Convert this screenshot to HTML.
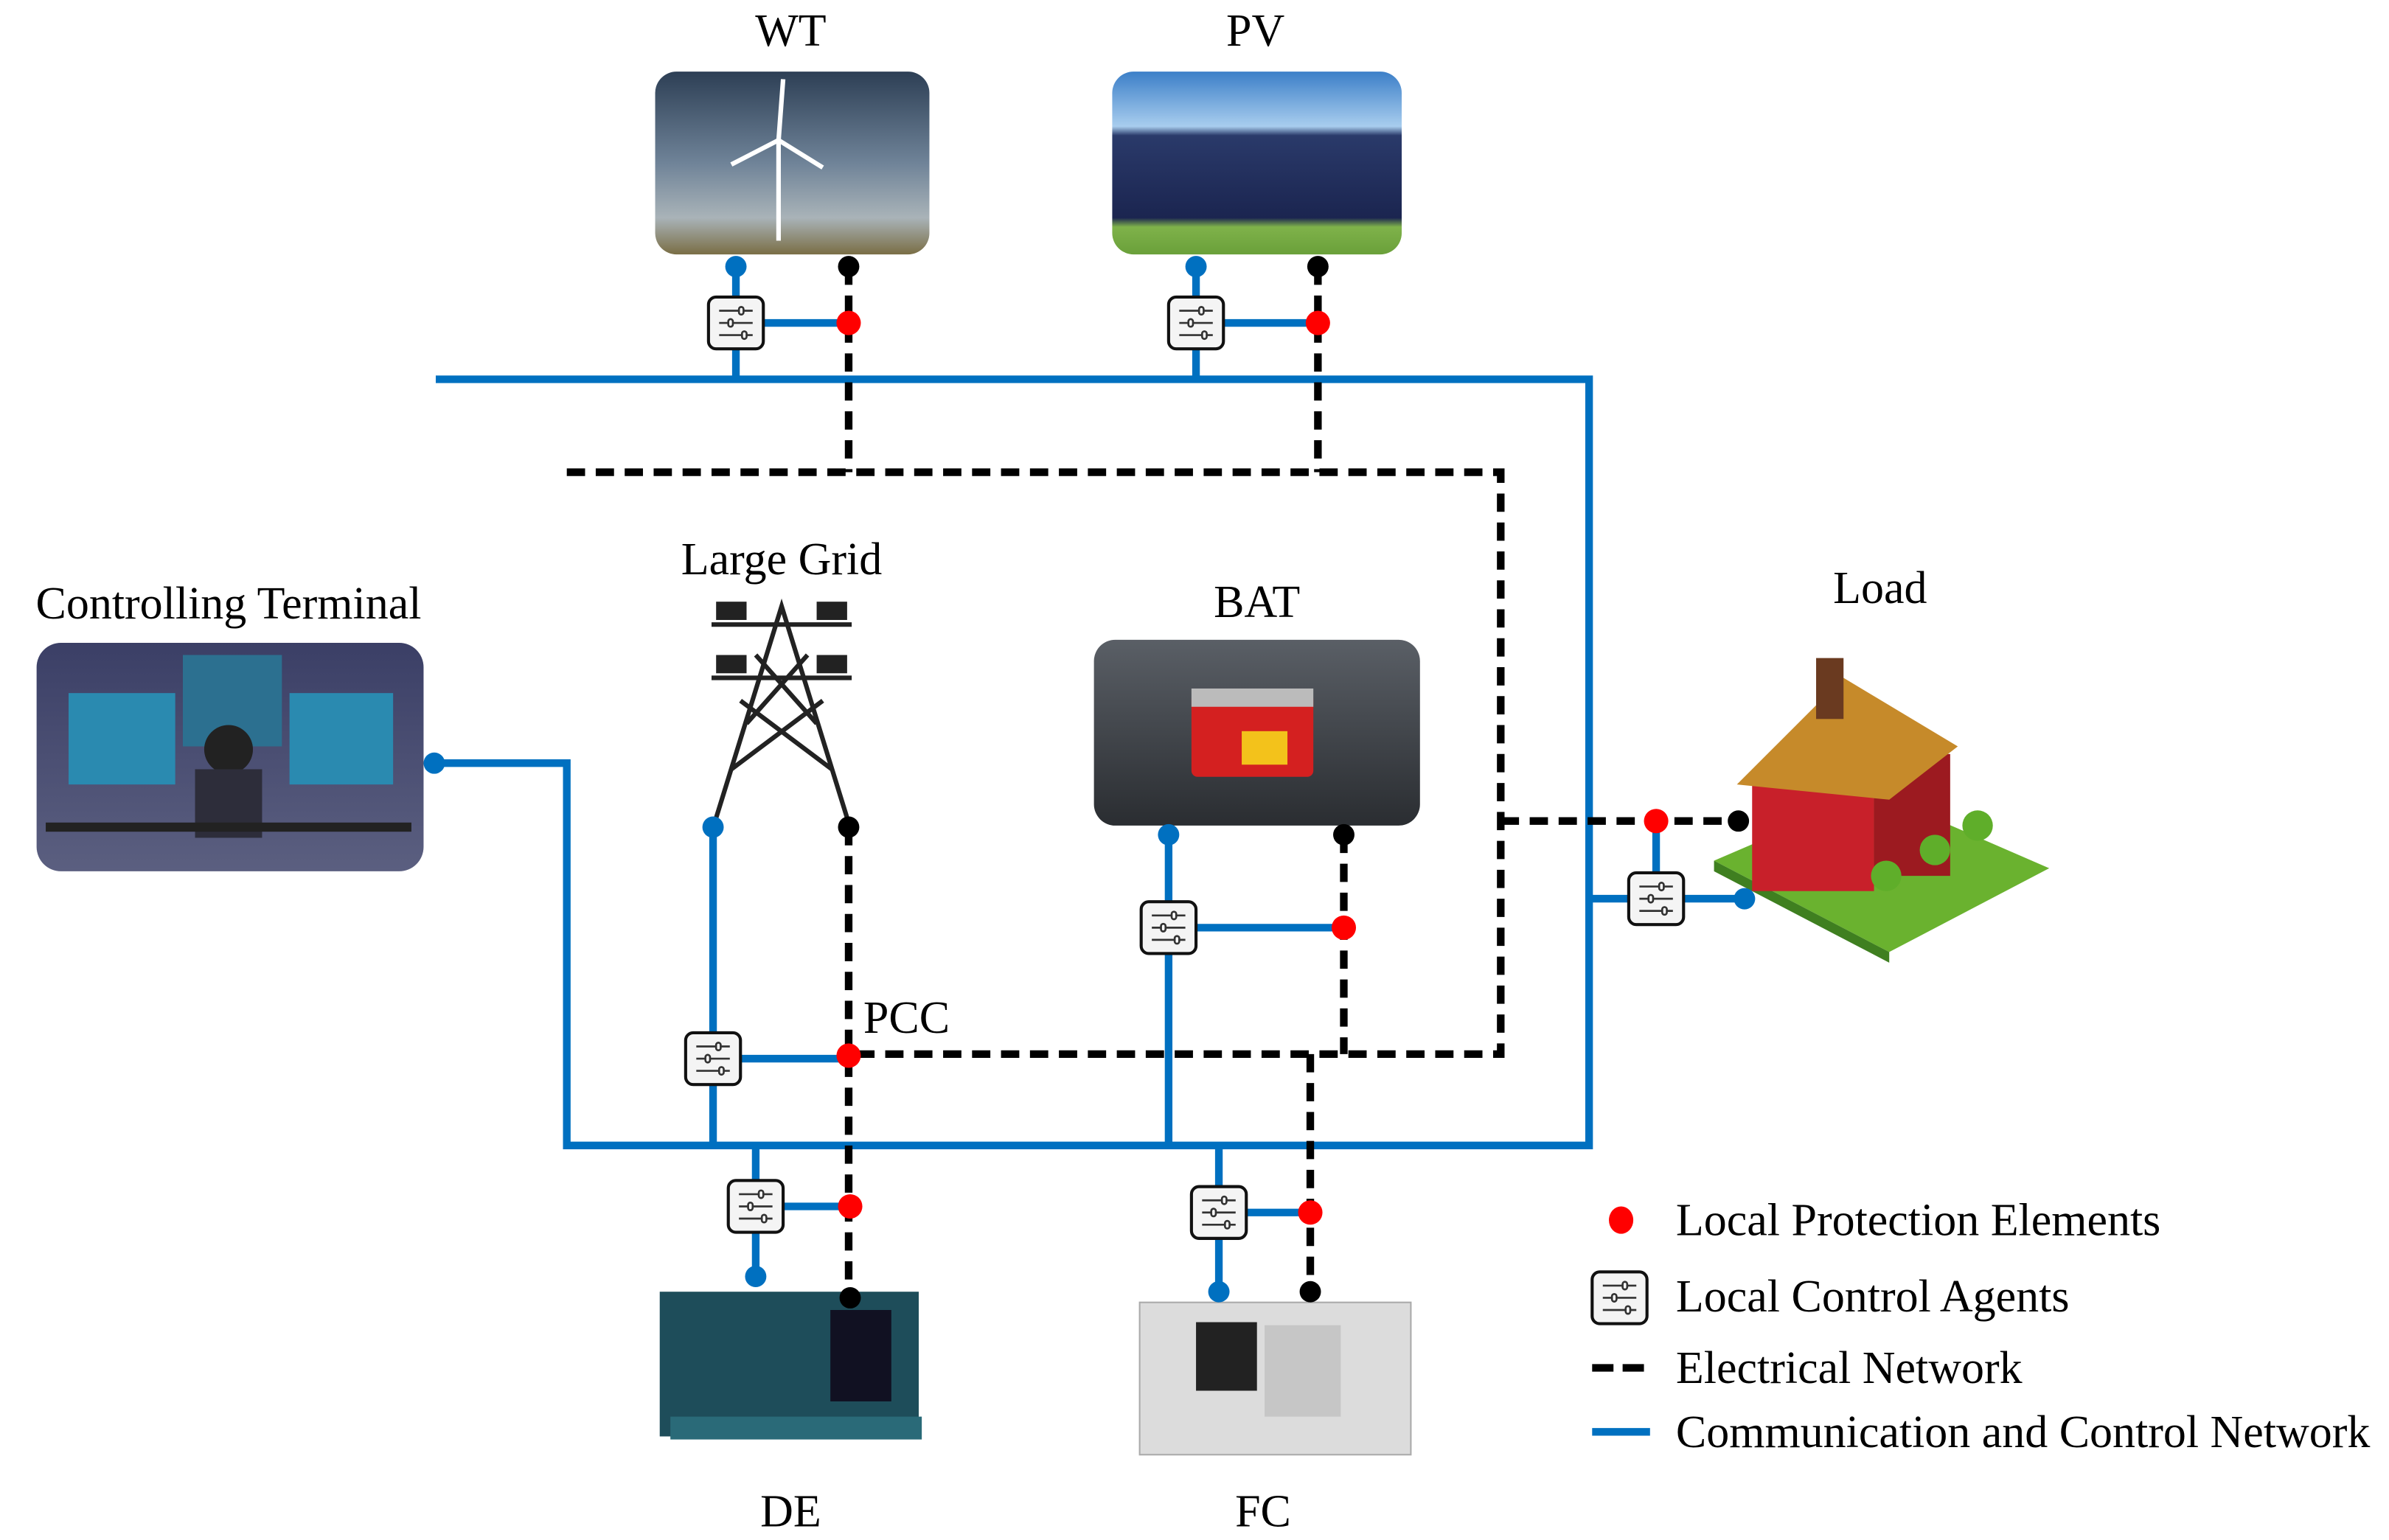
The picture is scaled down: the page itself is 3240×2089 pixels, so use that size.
<!DOCTYPE html>
<html><head><meta charset="utf-8"><style>html,body{margin:0;padding:0;background:#fff}svg{display:block}</style></head>
<body>
<svg width="3240" height="2089" viewBox="0 0 1568 1011" xmlns="http://www.w3.org/2000/svg" font-family="Liberation Serif, serif">
<defs>
<linearGradient id="wt" x1="0" y1="0" x2="0" y2="1"><stop offset="0" stop-color="#2d3f55"/><stop offset="0.5" stop-color="#6f8398"/><stop offset="0.8" stop-color="#a9b3b8"/><stop offset="1" stop-color="#7a6e45"/></linearGradient>
<linearGradient id="pv" x1="0" y1="0" x2="0" y2="1"><stop offset="0" stop-color="#3c7fc8"/><stop offset="0.3" stop-color="#a8cdee"/><stop offset="0.35" stop-color="#2a3a6a"/><stop offset="0.8" stop-color="#1b2550"/><stop offset="0.85" stop-color="#7fb24a"/><stop offset="1" stop-color="#6aa03a"/></linearGradient>
<linearGradient id="bat" x1="0" y1="0" x2="0" y2="1"><stop offset="0" stop-color="#5a5f66"/><stop offset="1" stop-color="#2a2d31"/></linearGradient>
<linearGradient id="term" x1="0" y1="0" x2="0" y2="1"><stop offset="0" stop-color="#3b3f66"/><stop offset="1" stop-color="#5b5f80"/></linearGradient>
<g id="ag"><rect x="-18" y="-17" width="36" height="34" rx="5" fill="#f4f4f4" stroke="#111" stroke-width="2"/>
<g stroke="#333" stroke-width="1.3" fill="#fff"><line x1="-11" y1="-8" x2="11" y2="-8"/><line x1="-11" y1="0" x2="11" y2="0"/><line x1="-11" y1="8" x2="11" y2="8"/><rect x="2" y="-10.5" width="3" height="5" rx="1.5"/><rect x="-5" y="-2.5" width="3" height="5" rx="1.5"/><rect x="4" y="5.5" width="3" height="5" rx="1.5"/></g></g>
</defs>

<rect x="430" y="47" width="180" height="120" rx="14" fill="url(#wt)"/>
<g stroke="#fff" stroke-width="3"><line x1="511" y1="92" x2="511" y2="158"/><line x1="511" y1="92" x2="514" y2="52"/><line x1="511" y1="92" x2="480" y2="108"/><line x1="511" y1="92" x2="540" y2="110"/></g>
<rect x="730" y="47" width="190" height="120" rx="14" fill="url(#pv)"/>
<rect x="718" y="420" width="214" height="122" rx="14" fill="url(#bat)"/>
<rect x="782" y="455" width="80" height="55" rx="4" fill="#d42020"/><rect x="782" y="452" width="80" height="12" fill="#bbb"/><rect x="815" y="480" width="30" height="22" fill="#f3c21b"/>
<rect x="24" y="422" width="254" height="150" rx="16" fill="url(#term)"/>
<rect x="45" y="455" width="70" height="60" fill="#2a8ab0"/><rect x="190" y="455" width="68" height="60" fill="#2a8ab0"/><rect x="120" y="430" width="65" height="60" fill="#2c7090"/>
<circle cx="150" cy="492" r="16" fill="#222"/><rect x="128" y="505" width="44" height="45" fill="#2d2d3a"/><rect x="30" y="540" width="240" height="6" fill="#222"/>
<g stroke="#222" stroke-width="3" fill="none"><path d="M470 537 L513 398 L556 537"/><path d="M480 505 L540 460 M546 505 L486 460 M490 475 L530 430 M536 475 L496 430"/><line x1="467" y1="410" x2="559" y2="410"/><line x1="467" y1="445" x2="559" y2="445"/></g>
<g fill="#222"><rect x="470" y="395" width="20" height="12"/><rect x="536" y="395" width="20" height="12"/><rect x="470" y="430" width="20" height="12"/><rect x="536" y="430" width="20" height="12"/></g>
<polygon points="1125,565 1230,520 1345,570 1240,625" fill="#6ab22f"/>
<polygon points="1125,565 1240,625 1240,632 1125,572" fill="#3f7f20"/>
<rect x="1150" y="510" width="80" height="75" fill="#c8202a"/><rect x="1230" y="495" width="50" height="80" fill="#9c1a20"/>
<polygon points="1140,515 1210,445 1285,490 1240,525" fill="#c68a2a"/><rect x="1192" y="432" width="18" height="40" fill="#6a3a20"/>
<circle cx="1238" cy="575" r="10" fill="#5fae2a"/><circle cx="1270" cy="558" r="10" fill="#5fae2a"/><circle cx="1298" cy="542" r="10" fill="#5fae2a"/>
<rect x="433" y="848" width="170" height="95" fill="#1e4d5a"/><rect x="440" y="930" width="165" height="15" fill="#2a6a78"/><rect x="545" y="860" width="40" height="60" fill="#112"/>
<rect x="748" y="855" width="178" height="100" fill="#dcdcdc"/><rect x="748" y="855" width="178" height="100" fill="none" stroke="#aaa"/><rect x="785" y="868" width="40" height="45" fill="#222"/><rect x="830" y="870" width="50" height="60" fill="#c6c6c6"/>

<g stroke="#0070c0" stroke-width="5" fill="none">
<path d="M286 249 H1043 V752 H372 V501 H285"/>
<path d="M483 175 V249 M483 212 H557"/>
<path d="M785 175 V249 M785 212 H865"/>
<path d="M468 543 V752 M468 695 H557"/>
<path d="M767 548 V752 M767 609 H882"/>
<path d="M496 752 V838 M496 792 H558"/>
<path d="M800 752 V848 M800 796 H860"/>
<path d="M1043 590 H1145 M1087 539 V590"/>
</g>
<g stroke="#000" stroke-width="5" fill="none" stroke-dasharray="12 7">
<path d="M557 175 V310"/><path d="M865 175 V310"/>
<path d="M372 310 H985 V692 H557"/>
<path d="M557 543 V852"/><path d="M882 548 V692"/><path d="M860 692 V848"/>
<path d="M985 539 H1141"/>
</g>
<g fill="#0070c0"><circle cx="483" cy="175" r="7"/><circle cx="785" cy="175" r="7"/><circle cx="285" cy="501" r="7"/><circle cx="468" cy="543" r="7"/><circle cx="767" cy="548" r="7"/><circle cx="496" cy="838" r="7"/><circle cx="800" cy="848" r="7"/><circle cx="1145" cy="590" r="7"/></g>
<g fill="#000"><circle cx="557" cy="175" r="7"/><circle cx="865" cy="175" r="7"/><circle cx="557" cy="543" r="7"/><circle cx="882" cy="548" r="7"/><circle cx="558" cy="852" r="7"/><circle cx="860" cy="848" r="7"/><circle cx="1141" cy="539" r="7"/></g>
<g fill="#f00"><circle cx="557" cy="212" r="8"/><circle cx="865" cy="212" r="8"/><circle cx="557" cy="693" r="8"/><circle cx="882" cy="609" r="8"/><circle cx="558" cy="792" r="8"/><circle cx="860" cy="796" r="8"/><circle cx="1087" cy="539" r="8"/></g>
<use href="#ag" x="483" y="212"/><use href="#ag" x="785" y="212"/><use href="#ag" x="468" y="695"/><use href="#ag" x="767" y="609"/><use href="#ag" x="496" y="792"/><use href="#ag" x="800" y="796"/><use href="#ag" x="1087" y="590"/>

<g font-size="30" fill="#000" text-anchor="middle">
<text x="519" y="30">WT</text><text x="824" y="30">PV</text>
<text x="150" y="406">Controlling Terminal</text><text x="513" y="377">Large Grid</text>
<text x="825" y="405">BAT</text><text x="1234" y="396">Load</text>
<text x="519" y="1002">DE</text><text x="829" y="1002">FC</text>
<text x="595" y="678">PCC</text>
</g>
<ellipse cx="1064" cy="801" rx="8" ry="9" fill="#f00"/>
<use href="#ag" x="1063" y="852"/>
<path d="M1045 898 H1083" stroke="#000" stroke-width="5" stroke-dasharray="14 6"/>
<path d="M1045 940 H1083" stroke="#0070c0" stroke-width="5"/>
<g font-size="30" fill="#000"><text x="1100" y="811">Local Protection Elements</text><text x="1100" y="861">Local Control Agents</text><text x="1100" y="908">Electrical Network</text><text x="1100" y="950">Communication and Control Network</text></g>
</svg>
</body></html>
